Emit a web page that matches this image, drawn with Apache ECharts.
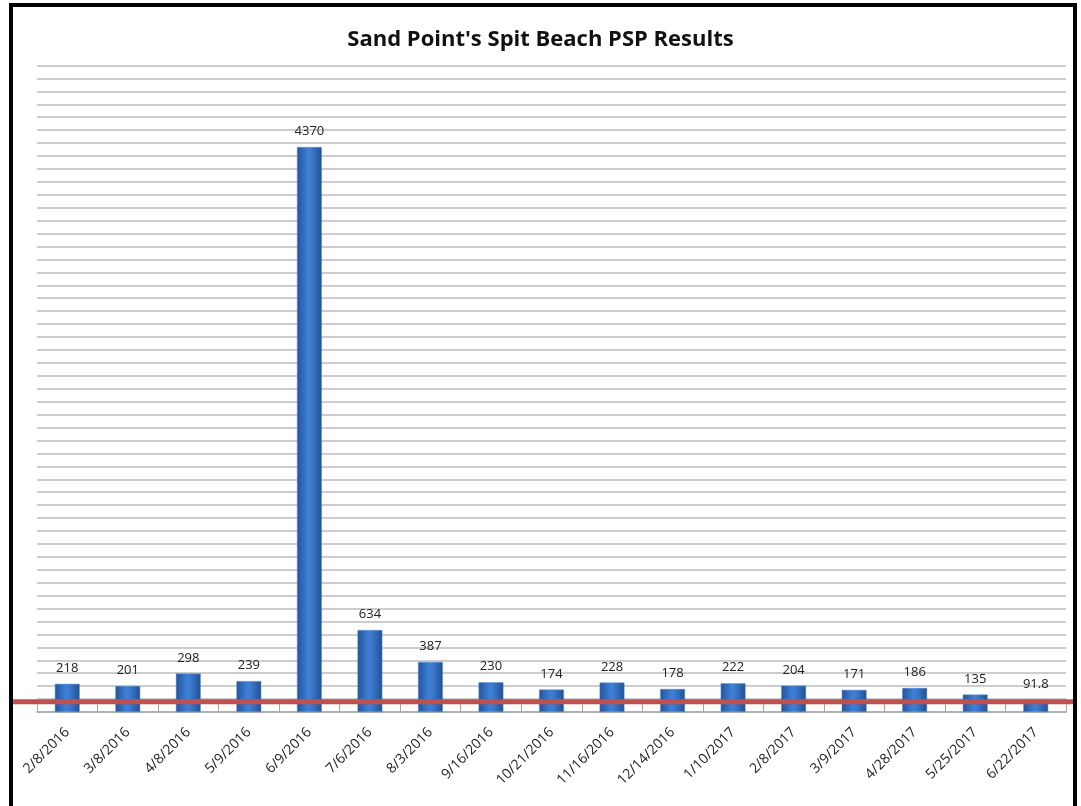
<!DOCTYPE html>
<html><head><meta charset="utf-8">
<script src="https://cdn.jsdelivr.net/npm/echarts@6/dist/echarts.min.js"></script>
<style>html,body{margin:0;padding:0;background:#fff}#c{width:1081px;height:806px}</style>
</head><body><div id="c"></div>
<script>
const categories = ['2/8/2016','3/8/2016','4/8/2016','5/9/2016','6/9/2016','7/6/2016','8/3/2016','9/16/2016','10/21/2016','11/16/2016','12/14/2016','1/10/2017','2/8/2017','3/9/2017','4/28/2017','5/25/2017','6/22/2017'];
const values = [218,201,298,239,4370,634,387,230,174,228,178,222,204,171,186,135,91.8];
const limitValue = 80;
const yMin = 0, yMax = 5000, yStep = 100;

const chart = echarts.init(document.getElementById('c'));
const barColor = new echarts.graphic.LinearGradient(0,0,1,0,[
  {offset:0,color:'#24539c'},{offset:0.45,color:'#3f80d6'},{offset:0.6,color:'#3a78cc'},{offset:1,color:'#22508f'}
]);
chart.setOption({
  animation:false,
  title:{text:"Sand Point's Spit Beach PSP Results",left:'center',top:24,
    textStyle:{fontFamily:'Open Sans',fontWeight:'bold',fontSize:22,color:'#111'}},
  graphic:[{type:'rect',shape:{x:11,y:5,width:1064,height:830},style:{fill:'none',stroke:'#000',lineWidth:4},z:-1}],
  grid:[
    {left:37,right:15,top:65.5,bottom:94,containLabel:false},
    {left:13,right:8,top:65.5,bottom:94,containLabel:false}
  ],
  xAxis:[
    {type:'category',data:categories,gridIndex:0,
      axisLine:{show:true,lineStyle:{color:'#a6a6a6',width:1.5}},
      axisTick:{show:true,inside:true,length:9,lineStyle:{color:'#a6a6a6'}},
      axisLabel:{rotate:45,fontFamily:'Open Sans',fontSize:14,color:'#222',margin:18,interval:0},
      splitLine:{show:false}},
    {type:'value',gridIndex:1,min:0,max:1,show:false}
  ],
  yAxis:[
    {type:'value',gridIndex:0,min:yMin,max:yMax,interval:yStep,
      axisLabel:{show:false},axisLine:{show:false},axisTick:{show:false},
      splitLine:{show:true,lineStyle:{color:'#bdbdbd',width:1.5}}},
    {type:'value',gridIndex:1,min:yMin,max:yMax,show:false}
  ],
  series:[
    {type:'bar',data:values,xAxisIndex:0,yAxisIndex:0,barWidth:'41%',
      itemStyle:{color:barColor,borderColor:'#5a8fd0',borderWidth:0.5},
      label:{show:true,position:'top',distance:9,fontFamily:'Open Sans',fontSize:13,color:'#222'}},
    {type:'line',xAxisIndex:1,yAxisIndex:1,data:[[0,limitValue],[1,limitValue]],symbol:'none',
      lineStyle:{color:'#c0504d',width:5},z:5}
  ]
});
</script></body></html>
